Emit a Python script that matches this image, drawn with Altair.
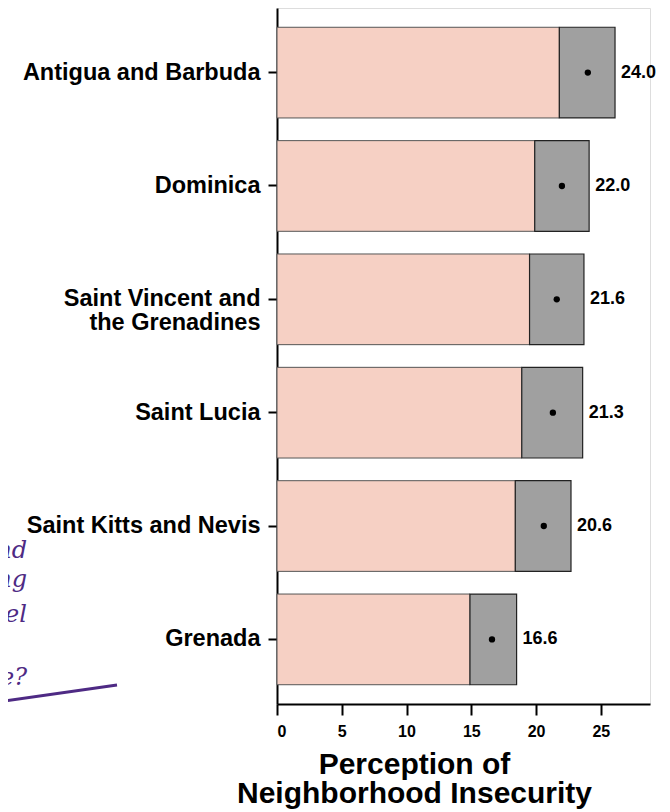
import altair as alt
import pandas as pd

countries = ["Antigua and Barbuda", "Dominica", "Saint Vincent and the Grenadines",
             "Saint Lucia", "Saint Kitts and Nevis", "Grenada"]
estimate = [24.0, 22.0, 21.6, 21.3, 20.6, 16.6]
lower = [21.8, 19.9, 19.5, 18.9, 18.4, 14.9]
upper = [26.1, 24.1, 23.7, 23.6, 22.7, 18.5]
x_ticks = [0, 5, 10, 15, 20, 25]
title_lines = ["Perception of", "Neighborhood Insecurity"]

# fragments of an overlapping annotation, cut off at the left edge of the reference
side_text = ["nd", "ng", "el", "fe?"]
side_y = [550, 579, 614, 677]

df = pd.DataFrame({"country": countries, "estimate": estimate,
                   "lower": lower, "upper": upper})
df["label"] = df["estimate"].map(lambda v: f"{v:.1f}")

W, H = 373, 696

y_enc = alt.Y("country:N", sort=countries, title=None,
              scale=alt.Scale(paddingInner=0.2, paddingOuter=0.17),
              axis=alt.Axis(
                  labelExpr="datum.label == 'Saint Vincent and the Grenadines' ? "
                            "['Saint Vincent and', 'the Grenadines'] : datum.label",
                  labelFont="Liberation Sans", labelFontWeight="bold",
                  labelFontSize=23.5, labelColor="black", labelLineHeight=24,
                  labelPadding=8, tickSize=9, tickWidth=2, tickColor="black",
                  domainColor="black", domainWidth=2, labelLimit=400))

x_scale = alt.Scale(domain=[0, 28.8], nice=False, zero=True)

base = alt.Chart(df)

pink = base.mark_bar(color="#f6d0c4", stroke="#555555", strokeWidth=1).encode(
    y=y_enc,
    x=alt.X("lower:Q", scale=x_scale,
            title=title_lines,
            axis=alt.Axis(values=x_ticks, labelFont="Liberation Sans",
                          labelFontWeight="bold", labelFontSize=16,
                          labelColor="black", tickSize=11, tickWidth=2,
                          tickColor="black", domainColor="black", domainWidth=2,
                          labelPadding=8, grid=False,
                          titleFont="Liberation Sans", titleFontWeight="bold",
                          titleFontSize=30, titleColor="black",
                          titleLineHeight=29, titleX=137, titleY=69,
                          titleAlign="center", titleBaseline="alphabetic")),
)

gray = base.mark_bar(color="#a0a0a0", stroke="#222222", strokeWidth=1.2).encode(
    y=alt.Y("country:N", sort=countries),
    x=alt.X("lower:Q", scale=x_scale),
    x2="upper:Q",
)

dots = base.mark_circle(color="black", size=40, opacity=1).encode(
    y=alt.Y("country:N", sort=countries),
    x=alt.X("estimate:Q", scale=x_scale),
)

labels = base.mark_text(align="left", baseline="middle", dx=6,
                        font="Liberation Sans", fontWeight="bold",
                        fontSize=18, color="black").encode(
    y=alt.Y("country:N", sort=countries),
    x=alt.X("upper:Q", scale=x_scale),
    text="label:N",
)

side_df = pd.DataFrame({"t": side_text, "yy": side_y})
side = alt.Chart(side_df).mark_text(
    align="right", baseline="alphabetic", font="DejaVu Serif",
    fontStyle="italic", fontSize=24, color="#4e2a84").encode(
    x=alt.value(-250), y=alt.Y("yy:Q", scale=None), text="t:N")

swoosh = alt.Chart(pd.DataFrame({"a": [0]})).mark_rule(
    color="#4e2a84", strokeWidth=3).encode(
    x=alt.value(-280), x2=alt.value(-160), y=alt.value(694), y2=alt.value(677))

chart = alt.layer(pink, gray, dots, labels, side, swoosh).properties(
    width=W, height=H,
    autosize=alt.AutoSizeParams(type="none"),
    padding={"left": 269, "top": 0, "right": 12, "bottom": 108},
).configure_view(stroke=None).configure(background="white")

chart.save("out.html", embed_options={"renderer": "svg", "actions": False})
